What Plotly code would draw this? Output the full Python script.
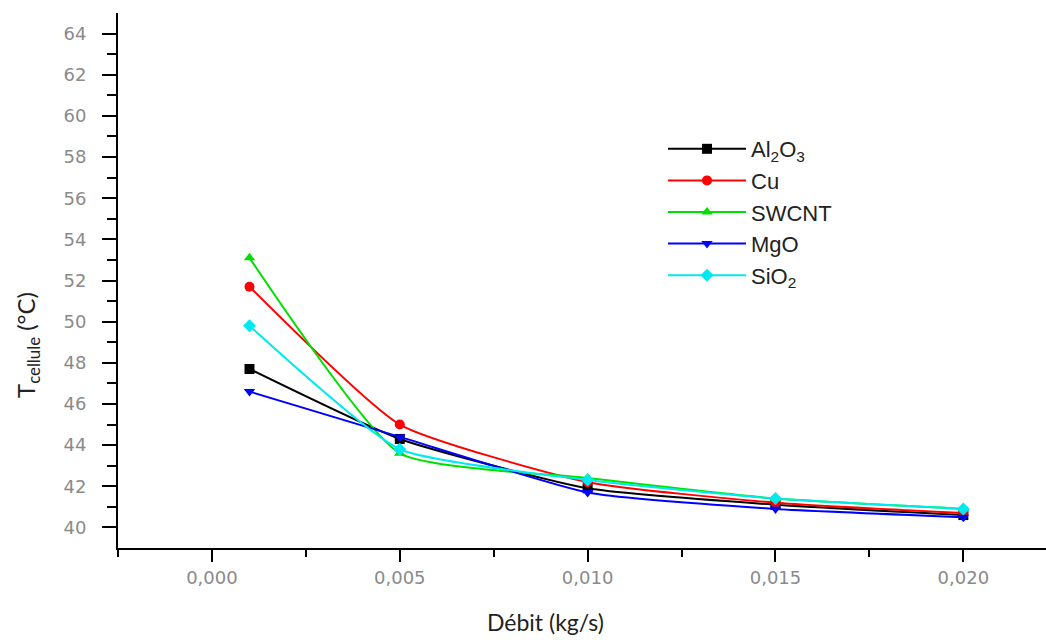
import plotly.graph_objects as go

debit = [0.001, 0.005, 0.010, 0.015, 0.020]
al2o3 = [47.7, 44.3, 41.9, 41.1, 40.6]
cu = [51.7, 45.0, 42.2, 41.2, 40.7]
swcnt = [53.1, 43.6, 42.4, 41.4, 40.9]
mgo = [46.6, 44.4, 41.7, 40.9, 40.5]
sio2 = [49.8, 43.8, 42.3, 41.4, 40.9]

names = ["Al<sub>2</sub>O<sub>3</sub>", "Cu", "SWCNT", "MgO", "SiO<sub>2</sub>"]
series = [al2o3, cu, swcnt, mgo, sio2]
colors = ["#000000", "#ff0000", "#00e000", "#0000ff", "#00e8f0"]
symbols = ["square", "circle", "triangle-up", "triangle-down", "diamond"]

fig = go.Figure()
for n, s, c, sym in zip(names, series, colors, symbols):
    fig.add_trace(go.Scatter(
        x=debit, y=s, name=n, mode="lines+markers",
        line=dict(color=c, width=2, shape="spline", smoothing=0.5),
        marker=dict(color=c, symbol=sym, size=10),
    ))

L, R, T, B = 118, 0, 13, 94
W, H = 1046, 642
pw = W - L - R
ph = H - T - B

fig.update_layout(
    width=W, height=H,
    margin=dict(l=L, r=R, t=T, b=B),
    plot_bgcolor="white", paper_bgcolor="white",
    separators=", ",
    showlegend=True,
    legend=dict(x=(663 - L) / pw, y=(548 - 128) / ph, xanchor="left", yanchor="top",
                font=dict(family="Liberation Sans, Arial", size=22, color="#222"),
                itemwidth=78, tracegroupgap=0, bgcolor="rgba(0,0,0,0)"),
    xaxis=dict(range=[-0.0025, 0.0222], tickvals=[0, 0.005, 0.01, 0.015, 0.02],
               tickformat=".3f", showgrid=False, zeroline=False,
               showline=True, linecolor="black", linewidth=2,
               ticks="outside", ticklen=12, tickwidth=2, tickcolor="black",
               minor=dict(tickvals=[-0.0025, 0.0025, 0.0075, 0.0125, 0.0175], ticks="outside",
                          ticklen=7, tickwidth=2, tickcolor="black"),
               tickfont=dict(family="DejaVu Sans", size=18, color="#8a8a8a")),
    yaxis=dict(range=[39, 65], tickvals=list(range(40, 65, 2)),
               showgrid=False, zeroline=False,
               showline=True, linecolor="black", linewidth=2,
               ticks="outside", ticklen=14, tickwidth=2, tickcolor="black",
               minor=dict(tickvals=list(range(41, 65, 2)), ticks="outside",
                          ticklen=9, tickwidth=2, tickcolor="black"),
               ticklabelstandoff=12,
               tickfont=dict(family="DejaVu Sans", size=18, color="#8a8a8a")),
    annotations=[
        dict(text="Débit (kg/s)", x=(545 - L) / pw, y=(548 - 622) / ph,
             xref="paper", yref="paper", xanchor="center", yanchor="middle",
             showarrow=False, font=dict(family="Lato", size=23, color="#222")),
        dict(text="T<sub>cellule</sub> (°C)", x=(27 - L) / pw, y=(548 - 345) / ph,
             xref="paper", yref="paper", xanchor="center", yanchor="middle",
             showarrow=False, textangle=-90,
             font=dict(family="Lato", size=24, color="#222")),
    ],
)

fig.write_html("out.html")
